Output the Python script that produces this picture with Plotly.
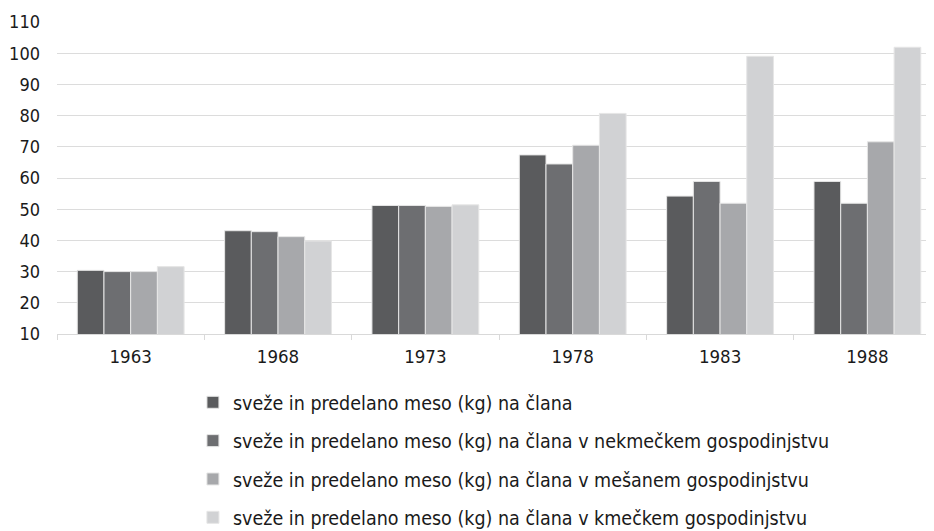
import plotly.graph_objects as go

years = ["1963", "1968", "1973", "1978", "1983", "1988"]
series_names = [
    "sveže in predelano meso (kg) na člana",
    "sveže in predelano meso (kg) na člana v nekmečkem gospodinjstvu",
    "sveže in predelano meso (kg) na člana v mešanem gospodinjstvu",
    "sveže in predelano meso (kg) na člana v kmečkem gospodinjstvu",
]
s_total = [30.4, 43.1, 51.2, 67.4, 54.2, 58.9]
s_nonfarm = [30.0, 42.8, 51.2, 64.5, 58.9, 51.9]
s_mixed = [30.0, 41.2, 50.9, 70.5, 51.9, 71.6]
s_farm = [31.6, 39.8, 51.4, 80.7, 99.0, 101.9]
colors = ["#5a5b5d", "#6d6e71", "#a7a8ab", "#d1d2d4"]
y_ticks = [10, 20, 30, 40, 50, 60, 70, 80, 90, 100, 110]

FONT = "DejaVu Sans Condensed, Roboto, sans-serif"

fig = go.Figure()
for i, (name, vals) in enumerate(zip(series_names, [s_total, s_nonfarm, s_mixed, s_farm])):
    fig.add_trace(go.Bar(
        x=years, y=vals, name=name,
        marker=dict(color=colors[i], line=dict(color="#e6e6e6", width=1)),
        legendgroup=f"g{i}",
    ))

# page body has an 8px default margin, so the figure is 8px smaller
fig.update_layout(
    width=926, height=523,
    margin=dict(l=49, r=0, t=14, b=197, autoexpand=False),
    paper_bgcolor="white", plot_bgcolor="white",
    barmode="group", bargap=0.275, bargroupgap=0,
    font=dict(family=FONT, size=18, color="#1a1a1a"),
    showlegend=True,
    legend=dict(
        orientation="v", x=0.155, xanchor="left", y=-0.1574, yanchor="top",
        font=dict(family=FONT, size=19.5, color="#1a1a1a"),
        tracegroupgap=10, itemwidth=30, bgcolor="rgba(0,0,0,0)",
    ),
    xaxis=dict(
        type="category", range=[-0.5, 5.452], automargin=False,
        showgrid=False, showline=True, linecolor="#d9d9d9", linewidth=1,
        ticks="outside", tickson="boundaries", ticklen=5, tickcolor="#d9d9d9",
        ticklabelstandoff=6,
        tickfont=dict(family=FONT, size=18.5, color="#1a1a1a"),
    ),
    yaxis=dict(
        range=[10, 110], tickvals=y_ticks, automargin=False,
        showgrid=True, gridcolor="#dcdcdc", gridwidth=1,
        zeroline=False, showline=False, ticks="",
        ticklabelstandoff=16,
        tickfont=dict(family=FONT, size=18, color="#1a1a1a"),
    ),
)

fig.write_html("out.html")
